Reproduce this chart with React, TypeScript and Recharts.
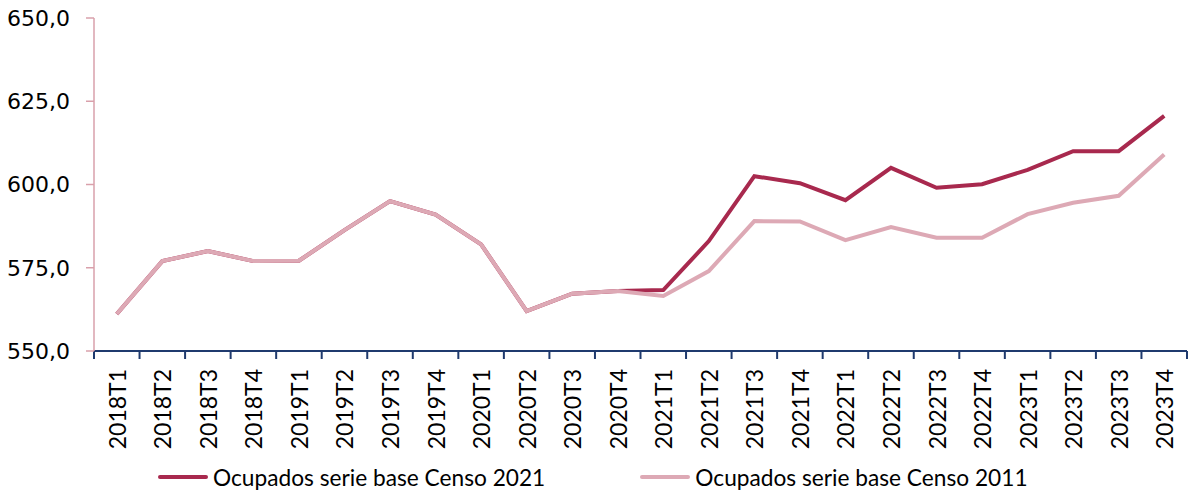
import React from 'react';
import { LineChart, Line, XAxis, YAxis, Legend } from 'recharts';

const periods = [
  '2018T1', '2018T2', '2018T3', '2018T4',
  '2019T1', '2019T2', '2019T3', '2019T4',
  '2020T1', '2020T2', '2020T3', '2020T4',
  '2021T1', '2021T2', '2021T3', '2021T4',
  '2022T1', '2022T2', '2022T3', '2022T4',
  '2023T1', '2023T2', '2023T3', '2023T4',
];

const censo2021 = [
  561.1, 577.0, 580.0, 577.0,
  577.1, 586.3, 595.0, 591.0,
  582.0, 562.0, 567.2, 568.0,
  568.3, 583.0, 602.5, 600.4,
  595.3, 605.0, 599.0, 600.1,
  604.4, 610.0, 610.0, 620.6,
];

const censo2011 = [
  561.1, 577.0, 580.0, 577.0,
  577.1, 586.3, 595.0, 591.0,
  582.0, 562.0, 567.2, 568.0,
  566.5, 574.0, 589.0, 588.9,
  583.3, 587.2, 584.0, 584.0,
  591.1, 594.5, 596.6, 609.0,
];

const yTicks = [550, 575, 600, 625, 650];

const seriesNames = ['Ocupados serie base Censo 2021', 'Ocupados serie base Censo 2011'];
const seriesColors = ['#A8294E', '#DDA9B5'];

const data = periods.map((p, i) => ({
  period: p,
  idx: i + 0.5,
  c2021: censo2021[i],
  c2011: censo2011[i],
}));

const boundaryTicks = periods.map((_, i) => i).concat(periods.length);
const labelTicks = periods.map((_, i) => i + 0.5);

const PeriodTick = (props: any) => {
  const { x, y, payload } = props;
  const label = periods[Math.floor(payload.value)];
  return (
    <text
      transform={`translate(${x},${y + 15}) rotate(-90)`}
      textAnchor="end"
      dominantBaseline="central"
      fontFamily="Lato"
      fontSize={23}
      fill="#000"
    >
      {label}
    </text>
  );
};

const renderLegend = () => (
  <div style={{ display: 'flex', alignItems: 'center', height: 24, paddingLeft: 158, fontFamily: 'Lato', fontSize: 22.7, color: '#000' }}>
    {seriesNames.map((name, i) => (
      <div key={name} style={{ display: 'flex', alignItems: 'center', marginRight: 95 }}>
        <span style={{ display: 'inline-block', width: 50, height: 4, borderRadius: 2, background: seriesColors[i], marginRight: 5 }} />
        <span style={{ whiteSpace: 'nowrap' }}>{name}</span>
      </div>
    ))}
  </div>
);

export default function App() {
  return (
    <div style={{ position: 'absolute', left: 0, top: 0 }}>
      <LineChart
        width={1190}
        height={491}
        data={data}
        margin={{ top: 18, right: 3, left: 0, bottom: 2 }}
      >
        <XAxis
          xAxisId="a-marks"
          type="number"
          dataKey="idx"
          domain={[0, periods.length]}
          ticks={boundaryTicks}
          interval={0}
          tickFormatter={() => ''}
          tickSize={8}
          tickLine={{ stroke: '#1F3A6E', strokeWidth: 2 }}
          axisLine={{ stroke: '#1F3A6E', strokeWidth: 2 }}
          height={1}
        />
        <XAxis
          xAxisId="b-labels"
          type="number"
          dataKey="idx"
          domain={[0, periods.length]}
          ticks={labelTicks}
          interval={0}
          axisLine={false}
          tickLine={false}
          tickSize={0}
          tick={<PeriodTick />}
          height={113}
        />
        <YAxis
          type="number"
          domain={[550, 650]}
          ticks={yTicks}
          interval={0}
          width={94}
          tickSize={8}
          tickMargin={16}
          axisLine={{ stroke: '#D9A0AB', strokeWidth: 1.5 }}
          tickLine={{ stroke: '#D9A0AB', strokeWidth: 1.5 }}
          tick={{ fill: '#000', fontSize: 22, fontFamily: 'DejaVu Sans' }}
          tickFormatter={(v: number) => v.toFixed(1).replace('.', ',')}
        />
        <Legend verticalAlign="bottom" height={24} content={renderLegend} />
        <Line
          xAxisId="a-marks"
          type="linear"
          dataKey="c2021"
          name={seriesNames[0]}
          stroke={seriesColors[0]}
          strokeWidth={4}
          dot={false}
          isAnimationActive={false}
        />
        <Line
          xAxisId="a-marks"
          type="linear"
          dataKey="c2011"
          name={seriesNames[1]}
          stroke={seriesColors[1]}
          strokeWidth={4}
          dot={false}
          isAnimationActive={false}
        />
      </LineChart>
    </div>
  );
}
